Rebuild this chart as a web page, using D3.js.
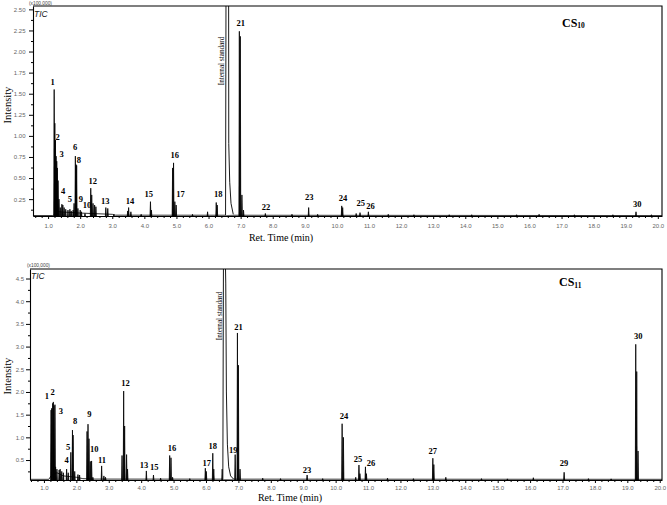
<!DOCTYPE html>
<html>
<head>
<meta charset="utf-8">
<script src="https://cdn.jsdelivr.net/npm/d3@7"></script>
<style>
body { margin: 0; background: #fff; }
svg { display: block; }
</style>
</head>
<body>
<svg id="chart" width="667" height="505"></svg>
<script>

// retention time ticks (min) and intensity ticks (x100,000)
var timeTicks = [1, 2, 3, 4, 5, 6, 7, 8, 9, 10, 11, 12, 13, 14, 15, 16, 17, 18, 19, 20];
var cs10Ticks = [0.25, 0.50, 0.75, 1.00, 1.25, 1.50, 1.75, 2.00, 2.25, 2.50];
var cs11Ticks = [0.5, 1.0, 1.5, 2.0, 2.5, 3.0, 3.5, 4.0, 4.5];

/** CS10 chromatogram : [time, intensity] **/
var cs10Peaks = [
    [1.19, 1.55], [1.21, 1.15], [1.23, 0.95], [1.25, 0.76], [1.27, 0.70], [1.29, 0.62],
    [1.31, 0.47], [1.34, 0.25], [1.38, 0.15], [1.43, 0.19], [1.46, 0.18], [1.50, 0.15],
    [1.55, 0.13], [1.62, 0.12], [1.68, 0.13], [1.72, 0.11], [1.78, 0.12], [1.81, 0.20],
    [1.85, 0.76], [1.87, 0.66], [1.89, 0.65], [1.93, 0.14], [2.00, 0.12], [2.04, 0.10],
    [2.15, 0.08], [2.33, 0.38], [2.36, 0.30], [2.40, 0.20], [2.45, 0.18], [2.49, 0.16],
    [2.80, 0.15], [2.86, 0.14], [3.05, 0.07], [3.48, 0.11], [3.51, 0.15], [3.58, 0.10],
    [3.90, 0.07], [4.19, 0.22], [4.22, 0.12], [4.88, 0.62], [4.91, 0.68], [4.95, 0.22],
    [4.99, 0.18], [5.50, 0.07], [5.97, 0.10], [6.24, 0.21], [6.27, 0.18], [6.96, 2.24],
    [6.99, 2.18], [7.04, 0.30], [7.09, 0.12], [7.77, 0.08], [8.60, 0.07], [9.12, 0.15],
    [9.40, 0.07], [10.15, 0.17], [10.18, 0.15], [10.60, 0.08], [10.72, 0.09], [10.98, 0.10],
    [11.60, 0.07], [12.40, 0.065], [13.50, 0.065], [14.20, 0.065], [15.60, 0.065],
    [16.30, 0.07], [17.40, 0.065], [18.60, 0.065], [19.32, 0.10], [19.80, 0.065]
];
var cs10Standard = [[6.53, 0.06], [6.545, 2.9], [6.625, 2.9], [6.63, 0.91], [6.66, 0.45], [6.70, 0.20], [6.77, 0.07]];
var cs10Baseline = [[0.5, 0.055], [1.15, 0.055], [1.32, 0.10], [2.0, 0.085], [3.0, 0.07], [3.1, 0.06], [20.2, 0.055]];
var cs10Labels = [
    ["1", 1.14, 1.64], ["2", 1.30, 0.99], ["3", 1.42, 0.785], ["4", 1.47, 0.346], ["5", 1.68, 0.248],
    ["6", 1.84, 0.87], ["8", 1.96, 0.71], ["9", 2.02, 0.25], ["10", 2.21, 0.18], ["12", 2.39, 0.465],
    ["13", 2.78, 0.23], ["14", 3.55, 0.23], ["15", 4.14, 0.307], ["16", 4.95, 0.773], ["17", 5.13, 0.31],
    ["18", 6.30, 0.31], ["21", 7.00, 2.34], ["22", 7.79, 0.16], ["23", 9.14, 0.27], ["24", 10.19, 0.267],
    ["25", 10.74, 0.20], ["26", 11.05, 0.17], ["30", 19.36, 0.19]
];

/** CS11 chromatogram **/
var cs11Peaks = [
    [1.22, 1.60], [1.24, 1.64], [1.27, 1.75], [1.29, 1.78], [1.31, 1.70], [1.34, 1.72],
    [1.36, 0.35], [1.40, 0.30], [1.47, 0.28], [1.50, 0.30], [1.55, 0.25], [1.60, 0.22],
    [1.70, 0.30], [1.75, 0.22], [1.83, 0.67], [1.88, 1.16], [1.90, 1.05], [1.95, 0.25],
    [2.05, 0.18], [2.10, 0.17], [2.33, 1.13], [2.36, 1.29], [2.39, 0.97], [2.43, 0.47],
    [2.47, 0.48], [2.51, 0.12], [2.78, 0.37], [2.85, 0.15], [2.90, 0.12], [3.41, 0.60],
    [3.46, 2.02], [3.49, 1.25], [3.55, 0.62], [3.58, 0.30], [4.16, 0.26], [4.38, 0.17],
    [4.60, 0.10], [4.88, 0.60], [4.92, 0.55], [4.97, 0.12], [5.50, 0.09], [5.98, 0.32],
    [6.01, 0.25], [6.21, 0.65], [6.24, 0.30], [6.50, 0.30], [6.90, 0.62], [6.97, 3.30],
    [7.00, 2.59], [7.05, 0.30], [7.75, 0.10], [8.30, 0.09], [9.12, 0.17], [9.60, 0.09],
    [10.20, 1.30], [10.24, 1.00], [10.62, 0.12], [10.72, 0.39], [10.75, 0.20], [10.92, 0.35],
    [10.95, 0.20], [11.60, 0.10], [12.40, 0.09], [13.00, 0.54], [13.03, 0.40], [13.40, 0.12],
    [14.50, 0.09], [15.30, 0.085], [16.10, 0.11], [17.05, 0.23], [17.80, 0.09], [18.50, 0.085],
    [19.26, 3.05], [19.29, 2.45], [19.33, 0.70]
];
var cs11Standard = [[6.52, 0.08], [6.54, 5.2], [6.59, 5.2], [6.61, 4.4], [6.63, 2.0], [6.66, 0.85], [6.70, 0.35], [6.76, 0.15], [6.85, 0.08]];
var cs11Baseline = [[0.5, 0.075], [1.15, 0.075], [1.22, 0.15], [1.40, 0.22], [1.60, 0.15], [2.0, 0.12], [2.2, 0.09], [2.5, 0.08], [20.2, 0.075]];
var cs11Labels = [
    ["1", 1.09, 1.91], ["2", 1.27, 1.99], ["3", 1.52, 1.58], ["4", 1.70, 0.49], ["5", 1.75, 0.78],
    ["8", 1.96, 1.37], ["9", 2.40, 1.51], ["10", 2.55, 0.74], ["11", 2.79, 0.50], ["12", 3.52, 2.19],
    ["13", 4.09, 0.39], ["15", 4.40, 0.34], ["16", 4.95, 0.76], ["17", 6.02, 0.43], ["18", 6.21, 0.81],
    ["19", 6.84, 0.71], ["21", 7.00, 3.43], ["23", 9.12, 0.29], ["24", 10.26, 1.47], ["25", 10.69, 0.52],
    ["26", 11.09, 0.44], ["27", 13.00, 0.70], ["29", 17.05, 0.43], ["30", 19.34, 3.23]
];

var serif = "'Liberation Serif', 'Times New Roman', serif",
    sans = "'Liberation Sans', Arial, sans-serif",
    halfWidth = 0.014;

var panels = [
    {
        sub: "10", peaks: cs10Peaks, standard: cs10Standard, baseline: cs10Baseline, labels: cs10Labels,
        yTicks: cs10Ticks, yFormat: ".2f", isTime: 6.55,
        box: {left: 33, right: 662, top: 6, bottom: 216},
        xDomain: [0.53, 20.13], yDomain: [0.05, 2.54],
        xPad: 4.5, yPad: 3.5,
        titleX: 562, titleY: 26.5, unitX: 29, unitY: 5, ticX: 34, ticY: 16.5,
        isLabelY: 61, intensityY: 105, retX: 281, retY: 241
    },
    {
        sub: "11", peaks: cs11Peaks, standard: cs11Standard, baseline: cs11Baseline, labels: cs11Labels,
        yTicks: cs11Ticks, yFormat: ".1f", isTime: 6.55,
        box: {left: 30, right: 662, top: 269, bottom: 480},
        xDomain: [0.57, 20.07], yDomain: [0.06, 4.71],
        xPad: 3, yPad: 2,
        titleX: 559, titleY: 286, unitX: 27, unitY: 267, ticX: 31, ticY: 278.5,
        isLabelY: 316, intensityY: 376, retX: 290, retY: 501
    }
];

var svg = d3.select("#chart");

function drawPanel(p, i){

    var x = d3.scaleLinear().domain(p.xDomain).range([p.box.left, p.box.right]);
    var y = d3.scaleLinear().domain(p.yDomain).range([p.box.bottom, p.box.top]);
    var base = p.yDomain[0];

    var line = d3.line()
        .x(function(d){ return x(d[0]); })
        .y(function(d){ return y(d[1]); });

    svg.append("clipPath")
        .attr("id", "clip" + i)
        .append("rect")
        .attr("x", p.box.left)
        .attr("y", p.box.top)
        .attr("width", p.box.right - p.box.left)
        .attr("height", p.box.bottom - p.box.top);

    var plot = svg.append("g").attr("clip-path", "url(#clip" + i + ")");

    plot.append("path")
        .datum(p.baseline)
        .attr("d", line)
        .attr("fill", "none")
        .attr("stroke", "#000")
        .attr("stroke-width", 0.8);

    plot.selectAll("path.peak")
        .data(p.peaks)
        .enter()
        .append("path")
        .attr("class", "peak")
        .attr("d", function(d){
            return line([[d[0] - halfWidth, base], [d[0], d[1]], [d[0] + halfWidth, base]]);
        })
        .attr("fill", "#000")
        .attr("stroke", "#000")
        .attr("stroke-width", 0.8)
        .attr("stroke-linejoin", "round");

    plot.append("path")
        .datum(p.standard)
        .attr("d", line)
        .attr("fill", "#fff")
        .attr("stroke", "#000")
        .attr("stroke-width", 0.9);

    // x axis
    var minor = d3.range(0.6, 20.1, 0.2).filter(function(t){
        return Math.abs(t - Math.round(t)) > 0.05;
    });

    svg.append("g")
        .attr("transform", "translate(0," + p.box.bottom + ")")
        .call(d3.axisBottom(x).tickValues(minor).tickSize(2).tickSizeOuter(0).tickFormat(""))
        .call(function(g){ g.select(".domain").remove(); });

    var xg = svg.append("g")
        .attr("transform", "translate(0," + p.box.bottom + ")")
        .call(d3.axisBottom(x).tickValues(timeTicks).tickSize(3).tickSizeOuter(0)
            .tickPadding(p.xPad).tickFormat(d3.format(".1f")));

    // y axis
    var step = p.yTicks[1] - p.yTicks[0];
    var yMinor = [];
    p.yTicks.forEach(function(v){
        yMinor.push(v - step / 2);
    });

    svg.append("g")
        .attr("transform", "translate(" + p.box.left + ",0)")
        .call(d3.axisLeft(y).tickValues(yMinor).tickSize(2).tickSizeOuter(0).tickFormat(""))
        .call(function(g){ g.select(".domain").remove(); });

    var yg = svg.append("g")
        .attr("transform", "translate(" + p.box.left + ",0)")
        .call(d3.axisLeft(y).tickValues(p.yTicks).tickSize(4).tickSizeOuter(0)
            .tickPadding(p.yPad).tickFormat(d3.format(p.yFormat)));

    [xg, yg].forEach(function(g){
        g.selectAll("text")
            .attr("font-family", sans)
            .attr("font-size", 6)
            .attr("fill", "#666");
    });

    svg.selectAll(".tick line").attr("stroke", "#000");
    svg.selectAll(".domain").attr("stroke", "#000").attr("stroke-width", 1.1);

    // frame top and right
    svg.append("path")
        .attr("d", "M" + p.box.left + "," + p.box.top + "H" + p.box.right + "V" + p.box.bottom)
        .attr("fill", "none")
        .attr("stroke", "#000")
        .attr("stroke-width", 1.1);

    // peak numbers
    svg.selectAll("text.lab" + i)
        .data(p.labels)
        .enter()
        .append("text")
        .attr("class", "lab" + i)
        .attr("x", function(d){ return x(d[1]); })
        .attr("y", function(d){ return y(d[2]); })
        .attr("dy", "0.35em")
        .attr("text-anchor", "middle")
        .attr("font-family", serif)
        .attr("font-weight", "bold")
        .attr("font-size", 8.5)
        .text(function(d){ return d[0]; });

    svg.append("text")
        .attr("transform", "translate(" + (x(p.isTime) - 4.5) + "," + p.isLabelY + ") rotate(-90)")
        .attr("dy", "0.35em")
        .attr("text-anchor", "middle")
        .attr("font-family", serif)
        .attr("font-size", 7.2)
        .text("Internal standard");

    var title = svg.append("text")
        .attr("x", p.titleX)
        .attr("y", p.titleY)
        .attr("font-family", serif)
        .attr("font-weight", "bold")
        .attr("font-size", 12)
        .text("CS");
    title.append("tspan")
        .attr("font-size", 7.5)
        .attr("dy", 1.5)
        .text(p.sub);

    svg.append("text")
        .attr("x", p.unitX)
        .attr("y", p.unitY)
        .attr("font-family", sans)
        .attr("font-size", 4.8)
        .attr("fill", "#444")
        .text("(x100,000)");

    svg.append("text")
        .attr("x", p.ticX)
        .attr("y", p.ticY)
        .attr("font-family", "'Liberation Sans Narrow', " + sans)
        .attr("font-style", "italic")
        .attr("font-size", 8.5)
        .attr("fill", "#222")
        .text("TIC");

    svg.append("text")
        .attr("transform", "translate(7," + p.intensityY + ") rotate(-90)")
        .attr("dy", "0.35em")
        .attr("text-anchor", "middle")
        .attr("font-family", serif)
        .attr("font-size", 10.5)
        .text("Intensity");

    svg.append("text")
        .attr("x", p.retX)
        .attr("y", p.retY)
        .attr("text-anchor", "middle")
        .attr("font-family", serif)
        .attr("font-size", 10)
        .text("Ret. Time (min)");
}

panels.forEach(drawPanel);

</script>
</body>
</html>
